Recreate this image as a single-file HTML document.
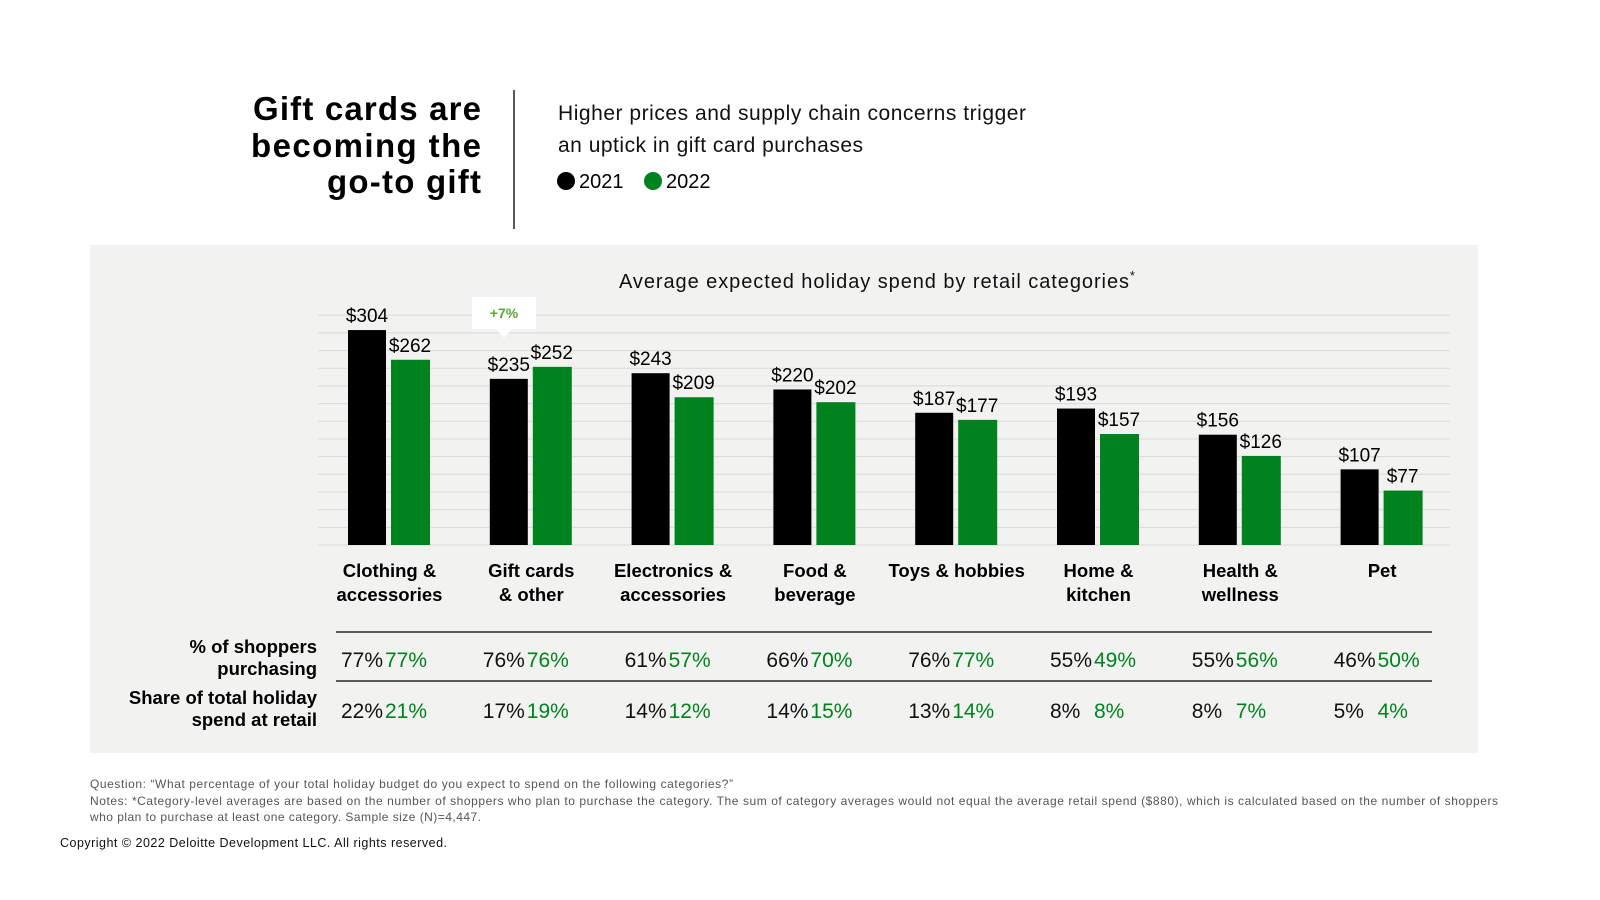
<!DOCTYPE html>
<html><head><meta charset="utf-8"><style>
html,body{margin:0;padding:0;background:#fff;}
svg{display:block;font-family:"Liberation Sans",Arial,sans-serif;}
</style></head><body>
<svg id="page" width="1600" height="900" viewBox="0 0 1600 900">
  <g font-weight="bold" font-size="33" text-anchor="end" fill="#000">
    <text x="481" y="120" textLength="228">Gift cards are</text>
    <text x="481" y="157" textLength="230">becoming the</text>
    <text x="481" y="193" textLength="154">go-to gift</text>
  </g>
  <line x1="514" y1="90" x2="514" y2="229" stroke="#222" stroke-width="1.5"/>
  <g font-size="21" fill="#111">
    <text x="558" y="120" textLength="468">Higher prices and supply chain concerns trigger</text>
    <text x="558" y="152" textLength="305">an uptick in gift card purchases</text>
  </g>
  <g font-size="20">
    <circle cx="566" cy="181" r="9" fill="#000"/>
    <text x="579" y="188">2021</text>
    <circle cx="653" cy="181" r="9" fill="#00831f"/>
    <text x="666" y="188">2022</text>
  </g>
  <rect x="90" y="245" width="1388" height="508" fill="#f2f2f0"/>
  <text x="619" y="288" font-size="20" fill="#111"><tspan textLength="510">Average expected holiday spend by retail categories</tspan><tspan font-size="13" dy="-8">*</tspan></text>
  <g id="grid"></g>
  <g id="bars"></g>
  <g>
    <rect x="472" y="297" width="64" height="32" fill="#fff"/>
    <polygon points="496,329 512,329 504,338" fill="#fff"/>
    <text x="504" y="318" text-anchor="middle" font-size="14" font-weight="bold" fill="#5ea83a">+7%</text>
  </g>
  <g id="cats" font-size="18.5" font-weight="bold"></g>
  <g font-size="18.5" font-weight="bold" text-anchor="end">
    <text x="317" y="653">% of shoppers</text>
    <text x="317" y="675">purchasing</text>
    <text x="317" y="704">Share of total holiday</text>
    <text x="317" y="726">spend at retail</text>
  </g>
  <line x1="336" y1="632" x2="1432" y2="632" stroke="#000" stroke-width="1.3"/>
  <line x1="336" y1="681" x2="1432" y2="681" stroke="#000" stroke-width="1.3"/>
  <g id="table" font-size="21"></g>
  <g font-size="12" fill="#555">
    <text x="90" y="788" textLength="643">Question: “What percentage of your total holiday budget do you expect to spend on the following categories?”</text>
    <text x="90" y="805" textLength="1408">Notes: *Category-level averages are based on the number of shoppers who plan to purchase the category. The sum of category averages would not equal the average retail spend ($880), which is calculated based on the number of shoppers</text>
    <text x="90" y="821" textLength="391">who plan to purchase at least one category. Sample size (N)=4,447.</text>
  </g>
  <text x="60" y="847" font-size="12.5" fill="#111" textLength="387">Copyright © 2022 Deloitte Development LLC. All rights reserved.</text>
</svg>
<script>
const categories = [["Clothing &","accessories"],["Gift cards","& other"],["Electronics &","accessories"],["Food &","beverage"],["Toys & hobbies"],["Home &","kitchen"],["Health &","wellness"],["Pet"]];
const spend2021 = [304,235,243,220,187,193,156,107];
const spend2022 = [262,252,209,202,177,157,126,77];
const shoppers2021 = ["77%","76%","61%","66%","76%","55%","55%","46%"];
const shoppers2022 = ["77%","76%","57%","70%","77%","49%","56%","50%"];
const share2021 = ["22%","17%","14%","14%","13%","8%","8%","5%"];
const share2022 = ["21%","19%","12%","15%","14%","8%","7%","4%"];
const gridTicks = [25,50,75,100,125,150,175,200,225,250,275,300,325];

const NS = "http://www.w3.org/2000/svg";
const baseY = 545, pxPer = 0.707;
const y = v => baseY - v * pxPer;
const gx = i => 348 + i * 141.8;
const barW = 38, gap = 5;
function mk(tag, attrs, parent, txt){const e=document.createElementNS(NS,tag);for(const k in attrs)e.setAttribute(k,attrs[k]);if(txt!==undefined)e.textContent=txt;parent.appendChild(e);return e;}

const grid = document.getElementById('grid');
gridTicks.forEach(t=>{
  const l = mk('line',{x1:318,x2:1450,y1:y(t),y2:y(t),stroke:'#d9d9d9','stroke-width':1},grid);
  
  
});
const base = mk('line',{x1:318,x2:1450,y1:baseY,y2:baseY,stroke:'#d9d9d9','stroke-width':1},grid);



const bars = document.getElementById('bars');
const cats = document.getElementById('cats');
const table = document.getElementById('table');
categories.forEach((c,i)=>{
  const x0 = gx(i), x1 = x0 + barW + gap;
  const b1 = mk('rect',{x:x0,y:y(spend2021[i]),width:barW,height:spend2021[i]*pxPer,fill:'#000'},bars);
  
  
  const b2 = mk('rect',{x:x1,y:y(spend2022[i]),width:barW+1,height:spend2022[i]*pxPer,fill:'#00831f'},bars);
  
  
  const l1 = mk('text',{x:x0+barW/2,y:y(spend2021[i])-8,'text-anchor':'middle','font-size':19,fill:'#000'},bars,'$'+spend2021[i]);
  
  
  const l2 = mk('text',{x:x1+barW/2,y:y(spend2022[i])-8,'text-anchor':'middle','font-size':19,fill:'#000'},bars,'$'+spend2022[i]);
  
  
  const t = mk('text',{x:x0+41.5,y:577,'text-anchor':'middle'},cats);
  
  
  c.forEach((line,j)=>mk('tspan',{x:x0+41.5,dy:j?24:0},t,line));
  const a = mk('text',{x:x0-7,y:667,fill:'#111'},table,shoppers2021[i]);
  
  
  const b = mk('text',{x:x0+37,y:667,fill:'#00831f'},table,shoppers2022[i]);
  
  
  const d = mk('text',{x:x0-7,y:718,fill:'#111'},table,share2021[i]);
  
  
  const e = mk('text',{x:x0+37,y:718,fill:'#00831f'},table,share2022[i]);
  
  
});
</script>
</body></html>
